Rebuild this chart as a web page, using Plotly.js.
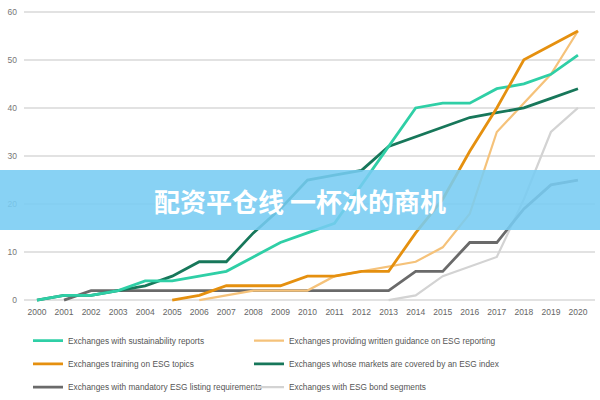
<!DOCTYPE html>
<html>
<head>
<meta charset="utf-8">
<script src="https://cdn.plot.ly/plotly-3.0.1.min.js"></script>
<style>html,body{margin:0;padding:0;background:#fff;}#chart{width:600px;height:400px;}</style>
</head>
<body>
<div id="chart"></div>
<script>
var years = [2000,2001,2002,2003,2004,2005,2006,2007,2008,2009,2010,2011,2012,2013,2014,2015,2016,2017,2018,2019,2020];
var sustainabilityReports = [0,1,1,2,4,4,5,6,9,12,14,16,24,32,40,41,41,44,45,47,51];
var writtenGuidance = [null,null,null,null,null,null,0,1,2,2,2,5,6,7,8,11,18,35,41,47,56];
var trainingESG = [null,null,null,null,null,0,1,3,3,3,5,5,6,6,14,21,31,40,50,53,56];
var esgIndex = [0,1,1,2,3,5,8,8,14,19,25,26,27,32,34,36,38,39,40,42,44];
var mandatoryListing = [null,0,2,2,2,2,2,2,2,2,2,2,2,2,6,6,12,12,19,24,25];
var bondSegments = [null,null,null,null,null,null,null,null,null,null,null,null,null,0,1,5,7,9,21,35,40];
var yTicks = [0,10,20,30,40,50,60];
var names = [
  "Exchanges with sustainability reports",
  "Exchanges providing written guidance on ESG reporting",
  "Exchanges training on ESG topics",
  "Exchanges whose markets are covered by an ESG index",
  "Exchanges with mandatory ESG listing requirements",
  "Exchanges with ESG bond segments"
];
var bannerText = "配资平仓线 一杯冰的商机";

var narrow = "Liberation Sans Narrow, Arial Narrow, Liberation Sans, Arial, sans-serif";

function tr(y, name, color, width, legend, rank, lw) {
  return {x: years, y: y, name: name, type: 'scatter', mode: 'lines',
    line: {color: color, width: width}, legend: legend, legendrank: rank, legendwidth: lw,
    connectgaps: false, hoverinfo: 'skip'};
}

var data = [
  tr(bondSegments, names[5], '#d3d3d3', 2.2, 'legend3', 2, 240),
  tr(mandatoryListing, names[4], '#6a6a6a', 2.8, 'legend3', 1, 176),
  tr(writtenGuidance, names[1], '#f5c27a', 2.2, 'legend', 2, 240),
  tr(esgIndex, names[3], '#17775a', 2.8, 'legend2', 2, 240),
  tr(sustainabilityReports, names[0], '#2fcfa6', 2.8, 'legend', 1, 176),
  tr(trainingESG, names[2], '#e5900f', 2.8, 'legend2', 1, 176)
];

function leg(y) {
  return {orientation: 'h', x: 0.007, xanchor: 'left', y: y, yanchor: 'top',
    bgcolor: 'rgba(0,0,0,0)', borderwidth: 0, traceorder: 'normal',
    font: {family: narrow, size: 8.3, color: '#555'}};
}

var layout = {
  width: 600, height: 400,
  margin: {l: 24, r: 5, t: 7, b: 95, autoexpand: false},
  paper_bgcolor: '#fff', plot_bgcolor: '#fff',
  showlegend: true,
  xaxis: {range: [1999.52, 2020.63], tickvals: years, ticktext: years.map(String),
    showgrid: false, zeroline: false, showline: false, ticks: '',
    tickfont: {family: narrow, size: 8.5, color: '#666'}, automargin: false, fixedrange: true},
  yaxis: {range: [-1, 61], tickvals: yTicks, showgrid: true, gridcolor: '#e2e2e2', gridwidth: 1.5,
    zeroline: false, showline: false, ticks: '', ticklabelstandoff: 6,
    tickfont: {family: narrow, size: 8.5, color: '#777'}, automargin: false, fixedrange: true},
  legend: leg(-0.071),
  legend2: leg(-0.149),
  legend3: leg(-0.227),
  shapes: [{type: 'rect', xref: 'paper', yref: 'paper', x0: -0.06, x1: 1.02,
    y0: 0.2513, y1: 0.453, fillcolor: 'rgb(120,204,242)', opacity: 0.88,
    line: {width: 0}, layer: 'above'}],
  annotations: [{xref: 'paper', yref: 'paper', x: 0.483, y: 0.352, xanchor: 'center', yanchor: 'middle',
    text: '<b>' + bannerText + '</b>', showarrow: false,
    font: {family: 'Noto Sans CJK SC, sans-serif', size: 26, color: '#ffffff'}}]
};

Plotly.newPlot('chart', data, layout, {staticPlot: true, displayModeBar: false});
</script>
</body>
</html>
